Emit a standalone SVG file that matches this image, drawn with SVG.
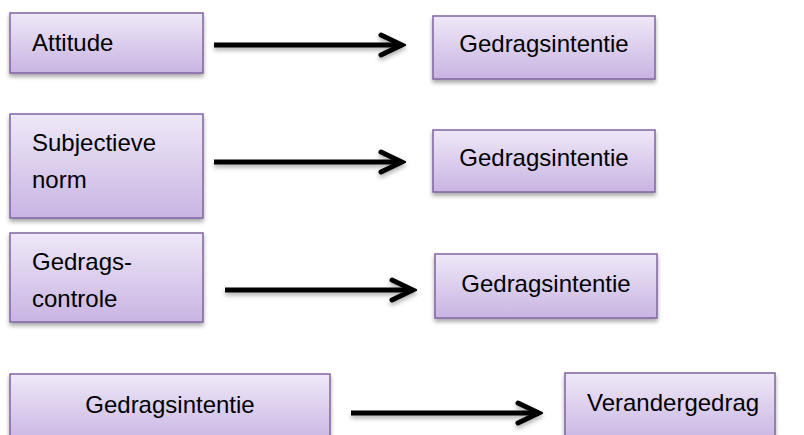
<svg xmlns="http://www.w3.org/2000/svg" width="804" height="435" viewBox="0 0 804 435">
  <defs>
    <linearGradient id="boxFill" x1="0" y1="0" x2="0" y2="1">
      <stop offset="0" stop-color="#efe8f8"/>
      <stop offset="1" stop-color="#c8b4e2"/>
    </linearGradient>
    <filter id="shadow" x="-10%" y="-20%" width="120%" height="150%">
      <feDropShadow dx="0" dy="3" stdDeviation="2" flood-color="#000" flood-opacity="0.35"/>
    </filter>
    <filter id="ashadow" filterUnits="userSpaceOnUse" x="0" y="0" width="804" height="435">
      <feDropShadow dx="0" dy="3" stdDeviation="2" flood-color="#000" flood-opacity="0.3"/>
    </filter>
    <marker id="head" markerUnits="userSpaceOnUse" viewBox="-30 -16 34 32" refX="0" refY="0" markerWidth="34" markerHeight="32" orient="auto">
      <path d="M-21,-10 L0,0 L-21,10" fill="none" stroke="#000" stroke-width="5" stroke-linecap="round" stroke-linejoin="miter"/>
    </marker>
  </defs>
  <style>
    .box { fill: url(#boxFill); stroke: #8064a2; stroke-width: 1.5; filter: url(#shadow); }
    .lbl { font-family: "Liberation Sans", Arial, sans-serif; font-size: 24px; fill: #000; }
    .mid { text-anchor: middle; }
    .arrow { fill: none; stroke: #000; stroke-width: 5; marker-end: url(#head); }
  </style>

  <g id="connectors" filter="url(#ashadow)">
    <path class="arrow" d="M214,45 H402"/>
    <path class="arrow" d="M214,162 H402"/>
    <path class="arrow" d="M225,290 H413"/>
    <path class="arrow" d="M351,413 H539"/>
  </g>

  <g id="attitude">
    <rect class="box" x="10" y="13" width="193" height="60"/>
    <text class="lbl" x="32" y="51">Attitude</text>
  </g>
  <g id="gedragsintentie1">
    <rect class="box" x="433" y="16" width="222" height="63"/>
    <text class="lbl mid" x="544" y="52">Gedragsintentie</text>
  </g>

  <g id="subjectieve-norm">
    <rect class="box" x="10" y="114" width="193" height="104"/>
    <text class="lbl" x="32" y="151">Subjectieve</text>
    <text class="lbl" x="32" y="188">norm</text>
  </g>
  <g id="gedragsintentie2">
    <rect class="box" x="433" y="130" width="222" height="62"/>
    <text class="lbl mid" x="544" y="166">Gedragsintentie</text>
  </g>

  <g id="gedragscontrole">
    <rect class="box" x="10" y="233" width="193" height="89"/>
    <text class="lbl" x="32" y="270">Gedrags-</text>
    <text class="lbl" x="32" y="307">controle</text>
  </g>
  <g id="gedragsintentie3">
    <rect class="box" x="435" y="254" width="222" height="64"/>
    <text class="lbl mid" x="546" y="292">Gedragsintentie</text>
  </g>

  <g id="gedragsintentie4">
    <rect class="box" x="10" y="374" width="320" height="70"/>
    <text class="lbl mid" x="170" y="413">Gedragsintentie</text>
  </g>
  <g id="verandergedrag">
    <rect class="box" x="565" y="373" width="210" height="70"/>
    <text class="lbl" x="587" y="411">Verandergedrag</text>
  </g>
</svg>
